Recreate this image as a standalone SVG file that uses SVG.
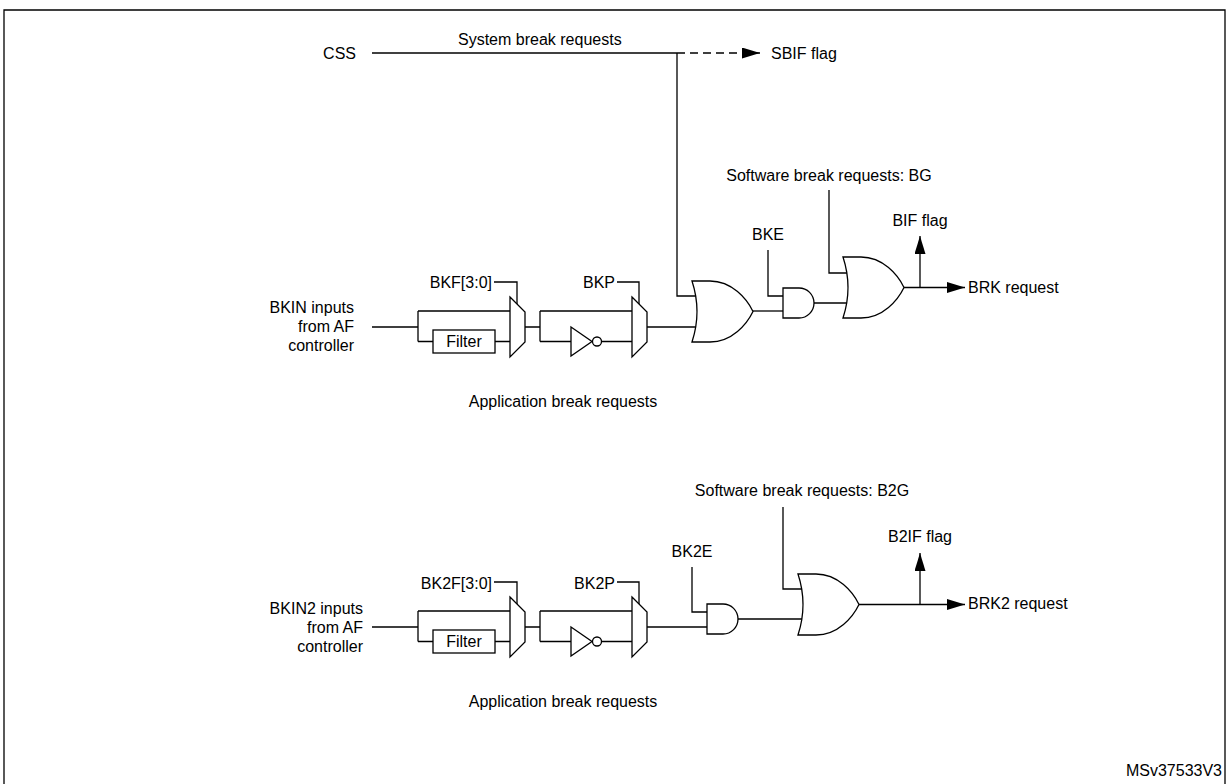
<svg xmlns="http://www.w3.org/2000/svg" xmlns:xlink="http://www.w3.org/1999/xlink" width="1230" height="784" viewBox="0 0 1230 784">
<style>
text{font-family:"Liberation Sans",Arial,sans-serif;font-size:16px;fill:#000}
.w{fill:none;stroke:#000;stroke-width:1.3}
.g{fill:#fff;stroke:#000;stroke-width:1.3}
.d{stroke-dasharray:8 5}
.e{text-anchor:end}
.m{text-anchor:middle}
</style>
<defs>
<marker id="arr" markerUnits="userSpaceOnUse" markerWidth="18" markerHeight="11" refX="18" refY="5.5" orient="auto"><path d="M0,0 L18,5.5 L0,11 z" fill="#000"/></marker>
<path id="or" d="M0,0 L18,0 C40,0 55,18 61,30.5 C55,43 40,61 18,61 L0,61 Q10,30.5 0,0 Z"/>
<path id="and" d="M0,0 L16,0 A15,15 0 0 1 16,30 L0,30 Z"/>
<path id="mux" d="M0,0 L15,15 L15,45 L0,60 Z"/>
<path id="inv" d="M0,0 L21,14.5 L0,29 Z"/>
</defs>
<rect width="1230" height="784" fill="#fff"/>
<path class="w" d="M4,790 V10 H1225 V790" stroke-width="2"/>

<g id="connectors">
<path class="w" d="M372,53 H677"/>
<path class="w d" d="M677,53 H760" marker-end="url(#arr)"/>
<path class="w" d="M677,53 V296 H696"/>
<path class="w" d="M372,327 H418 M418,311 V341.5 M418,311 H510 M418,341.5 H433 M495,341.5 H510"/>
<path class="w" d="M494,282 H517 V304"/>
<path class="w" d="M525,327 H540 M540,311 V341.5 M540,311 H632 M540,341.5 H571 M601.5,341.5 H632"/>
<path class="w" d="M617,282 H639 V304"/>
<path class="w" d="M647,327 H696"/>
<path class="w" d="M753,311 H783"/>
<path class="w" d="M768,250 V296 H783"/>
<path class="w" d="M814,303 H847"/>
<path class="w" d="M829,190 V273 H847"/>
<path class="w" d="M904,287.5 H965" marker-end="url(#arr)"/>
<path class="w" d="M920,287.5 V236" marker-end="url(#arr)"/>

<path class="w" d="M372,627 H418 M418,611 V641.5 M418,611 H510 M418,641.5 H433 M495,641.5 H510"/>
<path class="w" d="M494,582 H517 V604"/>
<path class="w" d="M525,627 H540 M540,611 V641.5 M540,611 H632 M540,641.5 H571 M601.5,641.5 H632"/>
<path class="w" d="M617,582 H639 V604"/>
<path class="w" d="M647,627 H707"/>
<path class="w" d="M692,567 V612 H707"/>
<path class="w" d="M738,619 H802"/>
<path class="w" d="M783,507 V589 H802"/>
<path class="w" d="M859,604.5 H965" marker-end="url(#arr)"/>
<path class="w" d="M920,604.5 V553" marker-end="url(#arr)"/>
</g>

<g id="filter1"><rect class="g" x="433" y="330" width="62" height="23"/><text class="m" x="464" y="347">Filter</text></g>
<g id="mux1"><use href="#mux" class="g" x="510" y="297"/></g>
<g id="inv1"><use href="#inv" class="g" x="571" y="327"/><circle class="g" cx="597" cy="341.5" r="4.5"/></g>
<g id="mux2"><use href="#mux" class="g" x="632" y="297"/></g>
<g id="or1"><use href="#or" class="g" x="692" y="281"/></g>
<g id="and1"><use href="#and" class="g" x="783" y="288"/></g>
<g id="or2"><use href="#or" class="g" x="843" y="257"/></g>

<g id="filter2"><rect class="g" x="433" y="630" width="62" height="23"/><text class="m" x="464" y="647">Filter</text></g>
<g id="mux3"><use href="#mux" class="g" x="510" y="597"/></g>
<g id="inv2"><use href="#inv" class="g" x="571" y="627"/><circle class="g" cx="597" cy="641.5" r="4.5"/></g>
<g id="mux4"><use href="#mux" class="g" x="632" y="597"/></g>
<g id="and2"><use href="#and" class="g" x="707" y="604"/></g>
<g id="or3"><use href="#or" class="g" x="798" y="574"/></g>

<g id="labels">
<text x="458" y="45">System break requests</text>
<text class="e" x="356" y="59">CSS</text>
<text x="771" y="59">SBIF flag</text>
<text class="m" x="829" y="181">Software break requests: BG</text>
<text class="m" x="768" y="240">BKE</text>
<text class="m" x="920" y="226">BIF flag</text>
<text x="968" y="293">BRK request</text>
<text class="e" x="492" y="288">BKF[3:0]</text>
<text class="e" x="615" y="288">BKP</text>
<text class="e" x="354" y="313">BKIN inputs</text>
<text class="e" x="354" y="332">from AF</text>
<text class="e" x="354" y="351">controller</text>
<text class="m" x="563" y="407">Application break requests</text>

<text class="m" x="802" y="496">Software break requests: B2G</text>
<text class="m" x="692" y="557">BK2E</text>
<text class="m" x="920" y="542">B2IF flag</text>
<text x="968" y="609">BRK2 request</text>
<text class="e" x="492" y="589">BK2F[3:0]</text>
<text class="e" x="615" y="589">BK2P</text>
<text class="e" x="363" y="614">BKIN2 inputs</text>
<text class="e" x="363" y="633">from AF</text>
<text class="e" x="363" y="652">controller</text>
<text class="m" x="563" y="707">Application break requests</text>
<text class="e" x="1222" y="776">MSv37533V3</text>
</g>
</svg>
